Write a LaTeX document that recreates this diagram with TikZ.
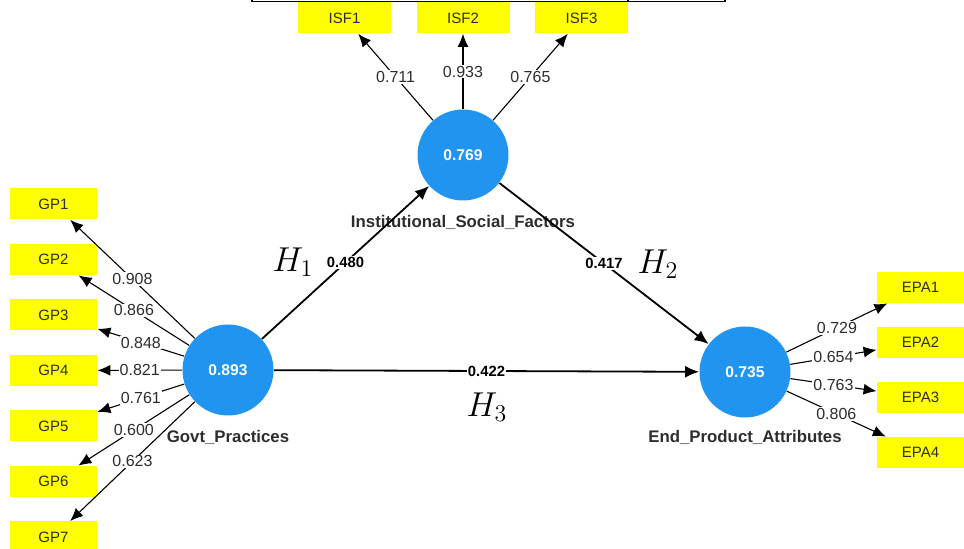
\documentclass[tikz,border=0pt]{standalone}
\usepackage{fontspec}
\setmainfont{Liberation Sans}
\usetikzlibrary{arrows.meta}
\definecolor{plsblue}{RGB}{33,148,240}
\definecolor{plsyellow}{RGB}{255,255,0}
\definecolor{coefgray}{RGB}{45,45,45}

\begin{document}
\begin{tikzpicture}[x=0.5pt,y=-0.5pt,
    lv/.style={circle,fill=plsblue,minimum size=45.5pt,inner sep=0pt,
      text=white,font=\bfseries\fontsize{7.8}{9}\selectfont},
    lvname/.style={font=\bfseries\fontsize{8.4}{10}\selectfont,text=coefgray},
    mv/.style={fill=plsyellow,minimum width=43.5pt,minimum height=15.5pt,
      inner sep=0pt,font=\fontsize{7.5}{8}\selectfont,text=coefgray},
    ind/.style={-{Latex[length=6.5pt,width=5.5pt]},line width=0.55pt},
    struct/.style={-{Latex[length=7pt,width=6pt]},line width=0.9pt},
    coef/.style={fill=white,inner sep=0.6pt,font=\fontsize{8}{9}\selectfont,text=coefgray},
    pcoef/.style={fill=white,inner sep=0.6pt,font=\bfseries\fontsize{7.4}{9}\selectfont},
    hyp/.style={font=\fontsize{18}{20}\selectfont}]

  \useasboundingbox (0,0) rectangle (964,549);

  % bottom edge of the table above
  \draw[line width=0.8pt] (252,0) -- (252,1.5) -- (725,1.5) -- (725,0);
  \draw[line width=0.8pt] (628,0) -- (628,1.5);

  % latent variables
  \node[lv] (gp)  at (228,370) {0.893};
  \node[lv] (isf) at (463,155) {0.769};
  \node[lv] (epa) at (745,372) {0.735};
  \node[lvname] (gpname)  at (228,437) {Govt\_Practices};
  \node[lvname] (isfname) at (463,222) {Institutional\_Social\_Factors};
  \node[lvname] (epaname) at (745,437) {End\_Product\_Attributes};

  % indicators
  \foreach \i/\y in {1/204,2/259.5,3/315,4/370.5,5/426,6/481.5,7/537}
    \node[mv] (gp\i) at (53.5,\y) {GP\i};
  \foreach \i/\x in {1/344.5,2/463,3/581.5}
    \node[mv,minimum width=46.5pt] (isf\i) at (\x,18) {ISF\i};
  \foreach \i/\y in {1/287.5,2/342.5,3/397.5,4/452.5}
    \node[mv] (epa\i) at (920.5,\y) {EPA\i};

  % outer loadings
  \foreach \i/\w in {1/0.908,2/0.866,3/0.848,4/0.821,5/0.761,6/0.600,7/0.623}
    \draw[ind] (gp) -- node[coef] {\w} (gp\i);
  \foreach \i/\w in {1/0.711,2/0.933,3/0.765}
    \draw[ind] (isf) -- node[coef] {\w} (isf\i);
  \foreach \i/\w in {1/0.729,2/0.654,3/0.763,4/0.806}
    \draw[ind] (epa) -- node[coef] {\w} (epa\i);

  % inner model
  \draw[struct] (gp) -- node[pcoef] {0.480} (isf);
  \draw[struct] (isf) -- node[pcoef] {0.417} (epa);
  \draw[struct] (gp) -- node[pcoef] {0.422} (epa);

  \node[hyp] (h1) at (293,262) {$H_1$};
  \node[hyp] (h2) at (658,264) {$H_2$};
  \node[hyp] (h3) at (487,407) {$H_3$};
\end{tikzpicture}
\end{document}
